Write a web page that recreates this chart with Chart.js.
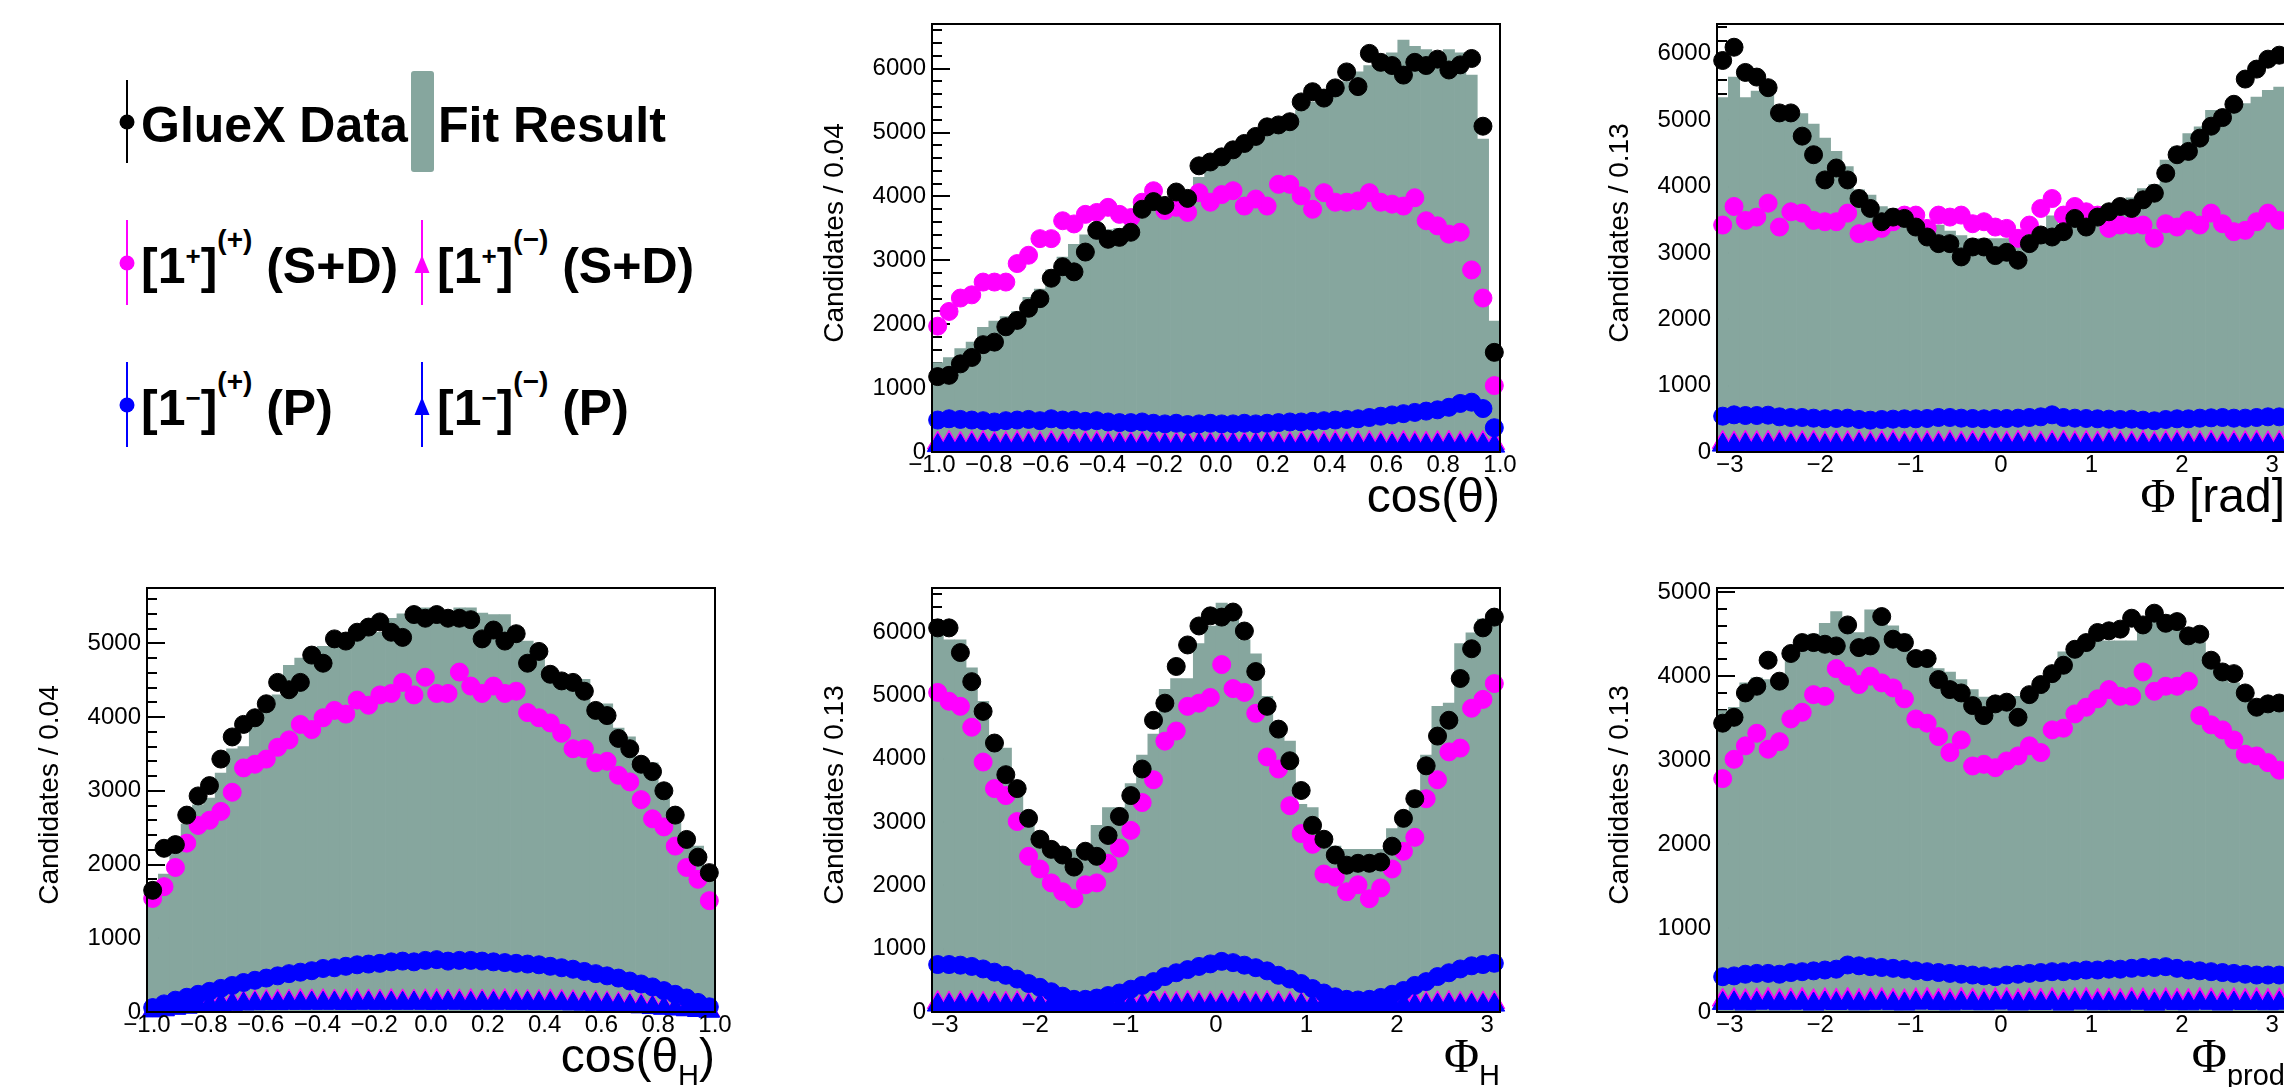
<!DOCTYPE html>
<html>
<head>
<meta charset="utf-8">
<script src="https://cdn.jsdelivr.net/npm/chart.js@4.4.1/dist/chart.umd.min.js"></script>
<style>
html, body { margin: 0; padding: 0; background: #fff; overflow: hidden; width: 2284px; height: 1087px; }
.pad { position: absolute; }
.leg { position: absolute; font: bold 50px "Liberation Sans", Arial, sans-serif; line-height: 50px; white-space: nowrap; color: #000; }
.s1 { font-size: 26px; position: relative; top: -18px; }
.s2 { font-size: 28px; position: relative; top: -34px; }
</style>
</head>
<body>
<svg style="position:absolute;left:0;top:0" width="785" height="543">
  <line x1="127" y1="80" x2="127" y2="163" stroke="#000" stroke-width="2"/>
  <circle cx="127" cy="122" r="7.5" fill="#000"/>
  <rect x="411" y="71" width="23" height="101" rx="3" fill="rgb(134,166,158)"/>
  <line x1="127" y1="220" x2="127" y2="305" stroke="#f0f" stroke-width="2"/>
  <circle cx="127" cy="263" r="7.5" fill="#f0f"/>
  <line x1="422" y1="220" x2="422" y2="305" stroke="#f0f" stroke-width="2"/>
  <polygon points="422,255 414.5,273 429.5,273" fill="#f0f"/>
  <line x1="127" y1="362" x2="127" y2="447" stroke="#00f" stroke-width="2"/>
  <circle cx="127" cy="405" r="7.5" fill="#00f"/>
  <line x1="422" y1="362" x2="422" y2="447" stroke="#00f" stroke-width="2"/>
  <polygon points="422,397 414.5,415 429.5,415" fill="#00f"/>
</svg>
<div class="leg" style="left:141px;top:100px">GlueX Data</div>
<div class="leg" style="left:438px;top:100px">Fit Result</div>
<div class="leg" style="left:141px;top:241px">[1<span class="s1">+</span>]<span class="s2">(+)</span> (S+D)</div>
<div class="leg" style="left:437px;top:241px">[1<span class="s1">+</span>]<span class="s2">(−)</span> (S+D)</div>
<div class="leg" style="left:141px;top:383px">[1<span class="s1">−</span>]<span class="s2">(+)</span> (P)</div>
<div class="leg" style="left:437px;top:383px">[1<span class="s1">−</span>]<span class="s2">(−)</span> (P)</div>

<script>
// bin centres (50 bins each)
const cosBins = [-0.98,-0.94,-0.90,-0.86,-0.82,-0.78,-0.74,-0.70,-0.66,-0.62,-0.58,-0.54,-0.50,-0.46,-0.42,-0.38,-0.34,-0.30,-0.26,-0.22,-0.18,-0.14,-0.10,-0.06,-0.02,
  0.02,0.06,0.10,0.14,0.18,0.22,0.26,0.30,0.34,0.38,0.42,0.46,0.50,0.54,0.58,0.62,0.66,0.70,0.74,0.78,0.82,0.86,0.90,0.94,0.98];
const phiBins = [-3.08,-2.95,-2.83,-2.70,-2.58,-2.45,-2.32,-2.20,-2.07,-1.95,-1.82,-1.70,-1.57,-1.45,-1.32,-1.19,-1.07,-0.94,-0.82,-0.69,-0.57,-0.44,-0.31,-0.19,-0.06,
  0.06,0.19,0.31,0.44,0.57,0.69,0.82,0.94,1.07,1.19,1.32,1.45,1.57,1.70,1.82,1.95,2.07,2.20,2.32,2.45,2.58,2.70,2.83,2.95,3.08];

const cosTicks = [-1.0,-0.8,-0.6,-0.4,-0.2,0.0,0.2,0.4,0.6,0.8,1.0];
const cosTickLabels = ["−1.0","−0.8","−0.6","−0.4","−0.2","0.0","0.2","0.4","0.6","0.8","1.0"];
const phiTicks = [-3,-2,-1,0,1,2,3];
const phiTickLabels = ["−3","−2","−1","0","1","2","3"];

// cos(theta)
const cosThData = [1180,1200,1380,1480,1680,1720,1960,2060,2250,2400,2720,2900,2820,3130,3470,3330,3360,3440,3800,3920,3860,4070,3970,4480,4540,
  4620,4730,4830,4940,5090,5120,5170,5480,5640,5540,5700,5950,5720,6240,6100,6050,5900,6100,6050,6150,5980,6060,6160,5100,1560];
const cosThPlusP = [1970,2200,2410,2460,2660,2660,2660,2950,3080,3340,3340,3620,3570,3720,3750,3830,3720,3670,3910,4090,3780,3830,3750,4060,3910,
  4030,4090,3850,3960,3850,4190,4190,4010,3800,4060,3910,3910,3930,4060,3910,3880,3850,3980,3620,3540,3410,3440,2850,2410,1040];
const cosThMinusP = [500,520,510,500,490,470,490,500,510,490,520,500,500,480,490,470,460,460,470,450,440,450,430,440,450,
  440,440,450,440,450,460,470,470,480,490,500,510,520,540,560,580,600,620,640,660,700,760,780,680,380];
const cosThPlusM = [140,152,138,147,155,141,136,150,144,139,151,143,137,149,146,140,153,138,145,150,142,136,148,151,139,
  144,150,137,146,152,141,138,149,145,140,153,139,147,150,142,137,151,144,140,148,153,141,146,150,135];
const cosThMinusM = [100,108,96,104,110,99,95,106,101,97,109,100,94,105,103,98,110,96,102,107,99,94,105,108,97,
  101,107,95,103,109,99,96,106,102,98,110,97,104,107,100,95,108,101,98,105,110,99,103,107,92];
const cosThFit = [1400,1480,1620,1720,1950,2050,2120,2200,2420,2550,2850,3050,3250,3400,3450,3480,3500,3560,3800,3880,3920,3950,3980,4300,4420,
  4520,4650,4750,4880,5000,5150,5250,5350,5480,5550,5700,5800,5950,6050,6150,6250,6450,6350,6300,6250,6300,6250,5900,4900,2050];

// Phi
const phiData = [5900,6100,5720,5650,5490,5110,5110,4760,4480,4100,4280,4100,3820,3670,3470,3540,3520,3390,3240,3140,3140,2940,3090,3090,2960,
  3010,2890,3140,3270,3240,3320,3520,3390,3540,3620,3700,3670,3800,3900,4200,4480,4530,4730,4910,5040,5240,5620,5770,5920,5980];
const phiPlusP = [3420,3700,3490,3540,3750,3390,3620,3600,3490,3470,3470,3600,3290,3320,3370,3470,3570,3570,3370,3570,3540,3570,3440,3470,3390,
  3370,3220,3420,3670,3820,3570,3700,3620,3570,3370,3420,3420,3420,3220,3440,3390,3490,3420,3600,3440,3320,3340,3470,3600,3490];
const phiMinusP = [540,560,550,550,555,530,520,520,510,500,505,510,490,480,490,495,500,500,505,520,520,510,505,500,505,
  505,510,520,530,560,520,510,505,500,495,490,495,480,470,490,500,500,510,515,520,510,510,520,530,530];
const phiPlusM = [145,138,150,142,147,153,139,144,151,136,148,143,150,140,146,152,137,149,144,141,153,138,147,150,143,
  139,152,145,137,148,151,142,146,139,153,144,140,149,136,147,152,141,145,150,138,146,143,151,140,148];
const phiMinusM = [104,97,109,100,106,111,96,102,108,94,105,101,110,98,103,109,95,107,102,99,111,96,104,108,100,
  97,110,103,95,106,109,99,104,97,111,102,98,107,94,105,110,99,103,108,96,104,101,109,98,106];
const phiFit = [5340,5650,5340,5440,5440,5140,5140,5100,4940,4730,4530,4300,3950,3870,3700,3670,3640,3620,3450,3420,3330,3260,3215,3215,3215,
  3215,3230,3300,3330,3560,3430,3430,3450,3570,3600,3800,3830,3970,4030,4400,4600,4800,4900,5150,5100,5200,5250,5350,5450,5500];

// cos(theta_H)
const cosHData = [1650,2220,2270,2670,2930,3070,3430,3730,3900,3990,4180,4470,4370,4470,4840,4730,5060,5030,5150,5220,5290,5150,5080,5390,5340,
  5390,5340,5340,5320,5060,5180,5030,5130,4730,4890,4580,4490,4470,4350,4090,4020,3710,3570,3360,3260,3000,2670,2340,2100,1890];
const cosHPlusP = [1540,1700,1960,2290,2530,2600,2720,2980,3310,3360,3430,3590,3690,3900,3830,3990,4090,4040,4230,4160,4300,4320,4470,4300,4540,
  4320,4320,4610,4420,4320,4420,4320,4350,4060,3990,3920,3780,3570,3570,3380,3400,3210,3120,2880,2620,2510,2250,1960,1800,1510];
const cosHMinusP = [60,110,160,200,240,280,320,360,400,430,460,490,520,540,560,590,600,620,640,650,660,680,690,680,700,
  710,690,700,700,690,680,670,660,650,640,620,600,580,550,520,490,460,420,380,340,290,240,190,130,70];
const cosHPlusM = [20,40,60,80,100,110,122,130,136,141,146,150,148,156,151,154,149,152,157,150,148,155,151,147,153,
  156,149,152,155,148,151,157,150,146,144,151,145,140,134,131,124,116,104,96,82,66,52,40,30,20];
const cosHMinusM = [15,30,50,65,80,90,100,105,110,112,115,114,120,118,121,119,122,117,120,123,118,121,119,122,120,
  118,123,120,117,121,119,122,118,120,116,115,114,110,108,105,100,90,80,70,60,50,40,30,20,10];
const cosHFit = [1680,1870,2250,2550,2810,2900,3240,3570,3600,3950,4230,4300,4700,4800,4940,4960,5060,5080,5130,5130,5150,5340,5400,5480,5480,
  5320,5320,5480,5480,5410,5390,5390,5030,5030,4800,4610,4510,4510,4510,4180,4180,3850,3730,3380,3380,3100,2740,2390,2250,1840];

// Phi_H
const phiHData = [6070,6070,5680,5220,4750,4250,3750,3530,3060,2730,2570,2480,2290,2540,2460,2790,3090,3420,3840,4610,4880,5460,5800,6100,6260,
  6240,6320,6020,5380,4830,4470,3970,3500,2950,2730,2480,2320,2350,2350,2370,2620,3060,3370,3890,4360,4610,5270,5740,6070,6240];
const phiHPlusP = [5050,4910,4830,4500,3950,3530,3420,3010,2460,2260,2040,1900,1790,2010,2040,2350,2590,2870,3310,3670,4280,4440,4830,4880,4970,
  5490,5110,5050,4720,4030,3840,3260,2820,2650,2180,2130,1900,2010,1790,1960,2260,2540,2760,3370,3670,4110,4170,4800,4940,5190];
const phiHMinusP = [750,750,740,720,680,630,580,520,450,390,320,250,200,200,220,260,300,360,420,480,560,620,670,720,760,
  800,780,740,700,650,580,520,450,370,300,240,200,190,200,230,280,340,420,480,560,620,680,730,750,770];
const phiHPlusM = [150,143,147,152,139,146,141,150,137,133,128,120,112,118,125,134,142,148,140,151,145,139,153,147,142,
  150,144,149,138,152,146,141,135,127,119,113,110,117,126,131,138,144,150,141,147,152,139,146,143,150];
const phiHMinusM = [110,104,108,112,100,106,102,111,99,106,101,108,98,104,109,100,107,103,99,110,105,101,112,106,102,
  109,104,108,99,111,105,101,107,100,108,103,99,106,110,101,105,109,98,104,107,111,100,106,103,109];
const phiHFit = [6180,5880,5880,5440,4910,4280,4170,3610,3060,2810,2680,2570,2570,2620,2950,3230,3230,3610,4060,4390,5100,5270,5270,5820,6100,
  6460,6210,5880,5660,4990,4550,4280,3280,3230,2730,2620,2570,2570,2570,2570,2900,3120,3500,4060,4830,4880,5820,5990,6210,6210];

// Phi_prod
const phiProdData = [3440,3510,3800,3880,4190,3940,4270,4400,4400,4380,4360,4610,4340,4360,4710,4440,4400,4210,4210,3960,3840,3800,3650,3530,3670,
  3690,3510,3780,3900,4030,4130,4320,4400,4520,4540,4560,4690,4610,4750,4630,4650,4480,4500,4190,4050,4030,3800,3630,3670,3680];
const phiProdPlusP = [2780,3010,3170,3320,3130,3220,3490,3570,3780,3760,4090,4000,3900,4000,3920,3860,3730,3490,3440,3280,3090,3240,2930,2950,2910,
  2990,3050,3170,3090,3360,3380,3550,3630,3730,3840,3760,3760,4050,3820,3880,3880,3940,3530,3420,3360,3240,3070,3050,2970,2880];
const phiProdMinusP = [420,430,450,460,460,450,470,480,490,500,510,560,550,540,530,520,510,490,480,470,460,450,440,430,420,
  440,450,460,470,480,480,490,500,500,510,510,520,530,530,540,520,500,490,480,470,460,450,440,440,440];
const phiProdPlusM = [142,150,138,147,153,140,145,151,137,149,144,152,139,146,150,141,136,148,153,143,139,151,145,140,149,
  152,138,146,143,150,137,148,153,141,145,139,151,147,136,150,144,140,152,146,138,149,143,151,141,147];
const phiProdMinusM = [102,109,97,105,111,99,104,108,95,107,101,110,98,103,109,100,96,106,111,102,97,108,104,99,107,
  110,96,105,101,109,95,106,111,99,103,97,108,105,94,109,102,98,110,104,96,107,101,108,99,105];
const phiProdFit = [3590,3630,3920,3980,3960,4000,4200,4380,4500,4630,4770,4600,4520,4790,4630,4600,4500,4290,4250,4090,4050,3960,3840,3750,3670,
  3670,3760,3800,3800,4050,4290,4290,4420,4420,4420,4420,4420,4670,4730,4730,4670,4540,4400,4250,4050,3920,3800,3700,3630,3630];

const GRAY = 'rgb(134,166,158)';
const MAG = '#ff00ff';
const BLU = '#0000ff';
const SANS = '"Liberation Sans", Arial, sans-serif';
const SERIF = '"Liberation Serif", "Times New Roman", serif';

// draws ROOT-like frame, ticks, labels and titles
function rootAxes(p) {
  return {
    id: 'rootAxes',
    beforeDatasetsDraw(chart) {
      const { ctx, chartArea: a, scales: { y } } = chart;
      ctx.save();
      ctx.strokeStyle = '#000';
      ctx.lineWidth = 2;
      ctx.beginPath();
      for (let k = 0; k * 200 <= y.max; k++) {
        const py = Math.round(y.getPixelForValue(k * 200));
        const len = k % 5 === 0 ? 18 : 10;
        ctx.moveTo(a.left, py);
        ctx.lineTo(a.left + len, py);
      }
      ctx.stroke();
      ctx.restore();
    },
    afterDraw(chart) {
      const { ctx, chartArea: a, scales: { y, xv } } = chart;
      ctx.save();
      ctx.strokeStyle = '#000';
      ctx.lineWidth = 2;
      ctx.strokeRect(a.left, a.top, a.right - a.left, a.bottom - a.top);

      ctx.fillStyle = '#000';
      ctx.font = '24px ' + SANS;
      ctx.textAlign = 'right';
      ctx.textBaseline = 'middle';
      for (let v = 0; v <= y.max; v += 1000) {
        ctx.fillText(String(v), a.left - 6, y.getPixelForValue(v));
      }
      ctx.textAlign = 'center';
      p.xTicks.forEach((v, i) => {
        ctx.fillText(p.xLabels[i], xv.getPixelForValue(v), a.bottom + 13);
      });

      // y title
      ctx.save();
      ctx.translate(a.left - 97, (a.top + a.bottom) / 2 - 5);
      ctx.rotate(-Math.PI / 2);
      ctx.font = '28px ' + SANS;
      ctx.fillText(p.yTitle, 0, 0);
      ctx.restore();

      // x title, right aligned to the frame
      ctx.textAlign = 'left';
      ctx.textBaseline = 'alphabetic';
      let w = 0;
      p.xTitle.forEach(s => { ctx.font = s.f; w += ctx.measureText(s.t).width; });
      let x = a.right - w;
      p.xTitle.forEach(s => {
        ctx.font = s.f;
        ctx.fillText(s.t, x, a.bottom + 60 + (s.dy || 0));
        x += ctx.measureText(s.t).width;
      });
      ctx.restore();
    }
  };
}

function points(data, color, style, radius, order) {
  return {
    type: 'line', data: data, showLine: false, xAxisID: 'x', yAxisID: 'y',
    pointStyle: style, pointRadius: radius, pointHoverRadius: radius,
    pointBackgroundColor: color, pointBorderColor: color, pointBorderWidth: 1,
    borderColor: color, order: order, clip: false
  };
}

function makePanel(p) {
  const div = document.createElement('div');
  div.className = 'pad';
  div.style.left = p.left + 'px';
  div.style.top = p.top + 'px';
  const cv = document.createElement('canvas');
  cv.width = 785;
  cv.height = p.h;
  div.appendChild(cv);
  document.body.appendChild(div);

  new Chart(cv, {
    type: 'bar',
    data: {
      labels: p.bins,
      datasets: [
        points(p.data, '#000', 'circle', 9, 1),
        points(p.plusP, MAG, 'circle', 9, 2),
        points(p.minusP, BLU, 'circle', 9, 3),
        points(p.minusM, BLU, 'triangle', 12, 4),
        points(p.plusM, MAG, 'triangle', 12, 5),
        {
          type: 'bar', data: p.fit, xAxisID: 'x', yAxisID: 'y',
          backgroundColor: GRAY, borderWidth: 0,
          barPercentage: 1, categoryPercentage: 1, order: 6
        }
      ]
    },
    options: {
      responsive: false,
      animation: false,
      events: [],
      layout: { padding: p.padding },
      plugins: { legend: { display: false }, tooltip: { enabled: false } },
      scales: {
        x: { type: 'category', display: false, offset: true },
        xv: { type: 'linear', axis: 'x', display: false, offset: false, min: p.xmin, max: p.xmax },
        y: { type: 'linear', display: false, min: 0, max: p.ymax }
      }
    },
    plugins: [rootAxes(p)]
  });
}

const topPad = { left: 147, right: 70, top: 24, bottom: 91 };
const botPad = { left: 147, right: 70, top: 45, bottom: 75 };

makePanel({
  left: 785, top: 0, h: 543, padding: topPad, bins: cosBins, xmin: -1, xmax: 1, ymax: 6700,
  xTicks: cosTicks, xLabels: cosTickLabels, yTitle: 'Candidates / 0.04',
  xTitle: [{ t: 'cos(θ)', f: '48px ' + SANS }],
  data: cosThData, plusP: cosThPlusP, minusP: cosThMinusP, plusM: cosThPlusM, minusM: cosThMinusM, fit: cosThFit
});
makePanel({
  left: 1570, top: 0, h: 543, padding: topPad, bins: phiBins, xmin: -Math.PI, xmax: Math.PI, ymax: 6450,
  xTicks: phiTicks, xLabels: phiTickLabels, yTitle: 'Candidates / 0.13',
  xTitle: [{ t: 'Φ', f: '48px ' + SERIF }, { t: ' [rad]', f: '48px ' + SANS }],
  data: phiData, plusP: phiPlusP, minusP: phiMinusP, plusM: phiPlusM, minusM: phiMinusM, fit: phiFit
});
makePanel({
  left: 0, top: 543, h: 544, padding: botPad, bins: cosBins, xmin: -1, xmax: 1, ymax: 5750,
  xTicks: cosTicks, xLabels: cosTickLabels, yTitle: 'Candidates / 0.04',
  xTitle: [{ t: 'cos(θ', f: '48px ' + SANS }, { t: 'H', f: '29px ' + SANS, dy: 13 }, { t: ')', f: '48px ' + SANS }],
  data: cosHData, plusP: cosHPlusP, minusP: cosHMinusP, plusM: cosHPlusM, minusM: cosHMinusM, fit: cosHFit
});
makePanel({
  left: 785, top: 543, h: 544, padding: botPad, bins: phiBins, xmin: -Math.PI, xmax: Math.PI, ymax: 6700,
  xTicks: phiTicks, xLabels: phiTickLabels, yTitle: 'Candidates / 0.13',
  xTitle: [{ t: 'Φ', f: '48px ' + SERIF }, { t: 'H', f: '29px ' + SANS, dy: 13 }],
  data: phiHData, plusP: phiHPlusP, minusP: phiHMinusP, plusM: phiHPlusM, minusM: phiHMinusM, fit: phiHFit
});
makePanel({
  left: 1570, top: 543, h: 544, padding: botPad, bins: phiBins, xmin: -Math.PI, xmax: Math.PI, ymax: 5050,
  xTicks: phiTicks, xLabels: phiTickLabels, yTitle: 'Candidates / 0.13',
  xTitle: [{ t: 'Φ', f: '48px ' + SERIF }, { t: 'prod', f: '29px ' + SANS, dy: 13 }],
  data: phiProdData, plusP: phiProdPlusP, minusP: phiProdMinusP, plusM: phiProdPlusM, minusM: phiProdMinusM, fit: phiProdFit
});
</script>
</body>
</html>
